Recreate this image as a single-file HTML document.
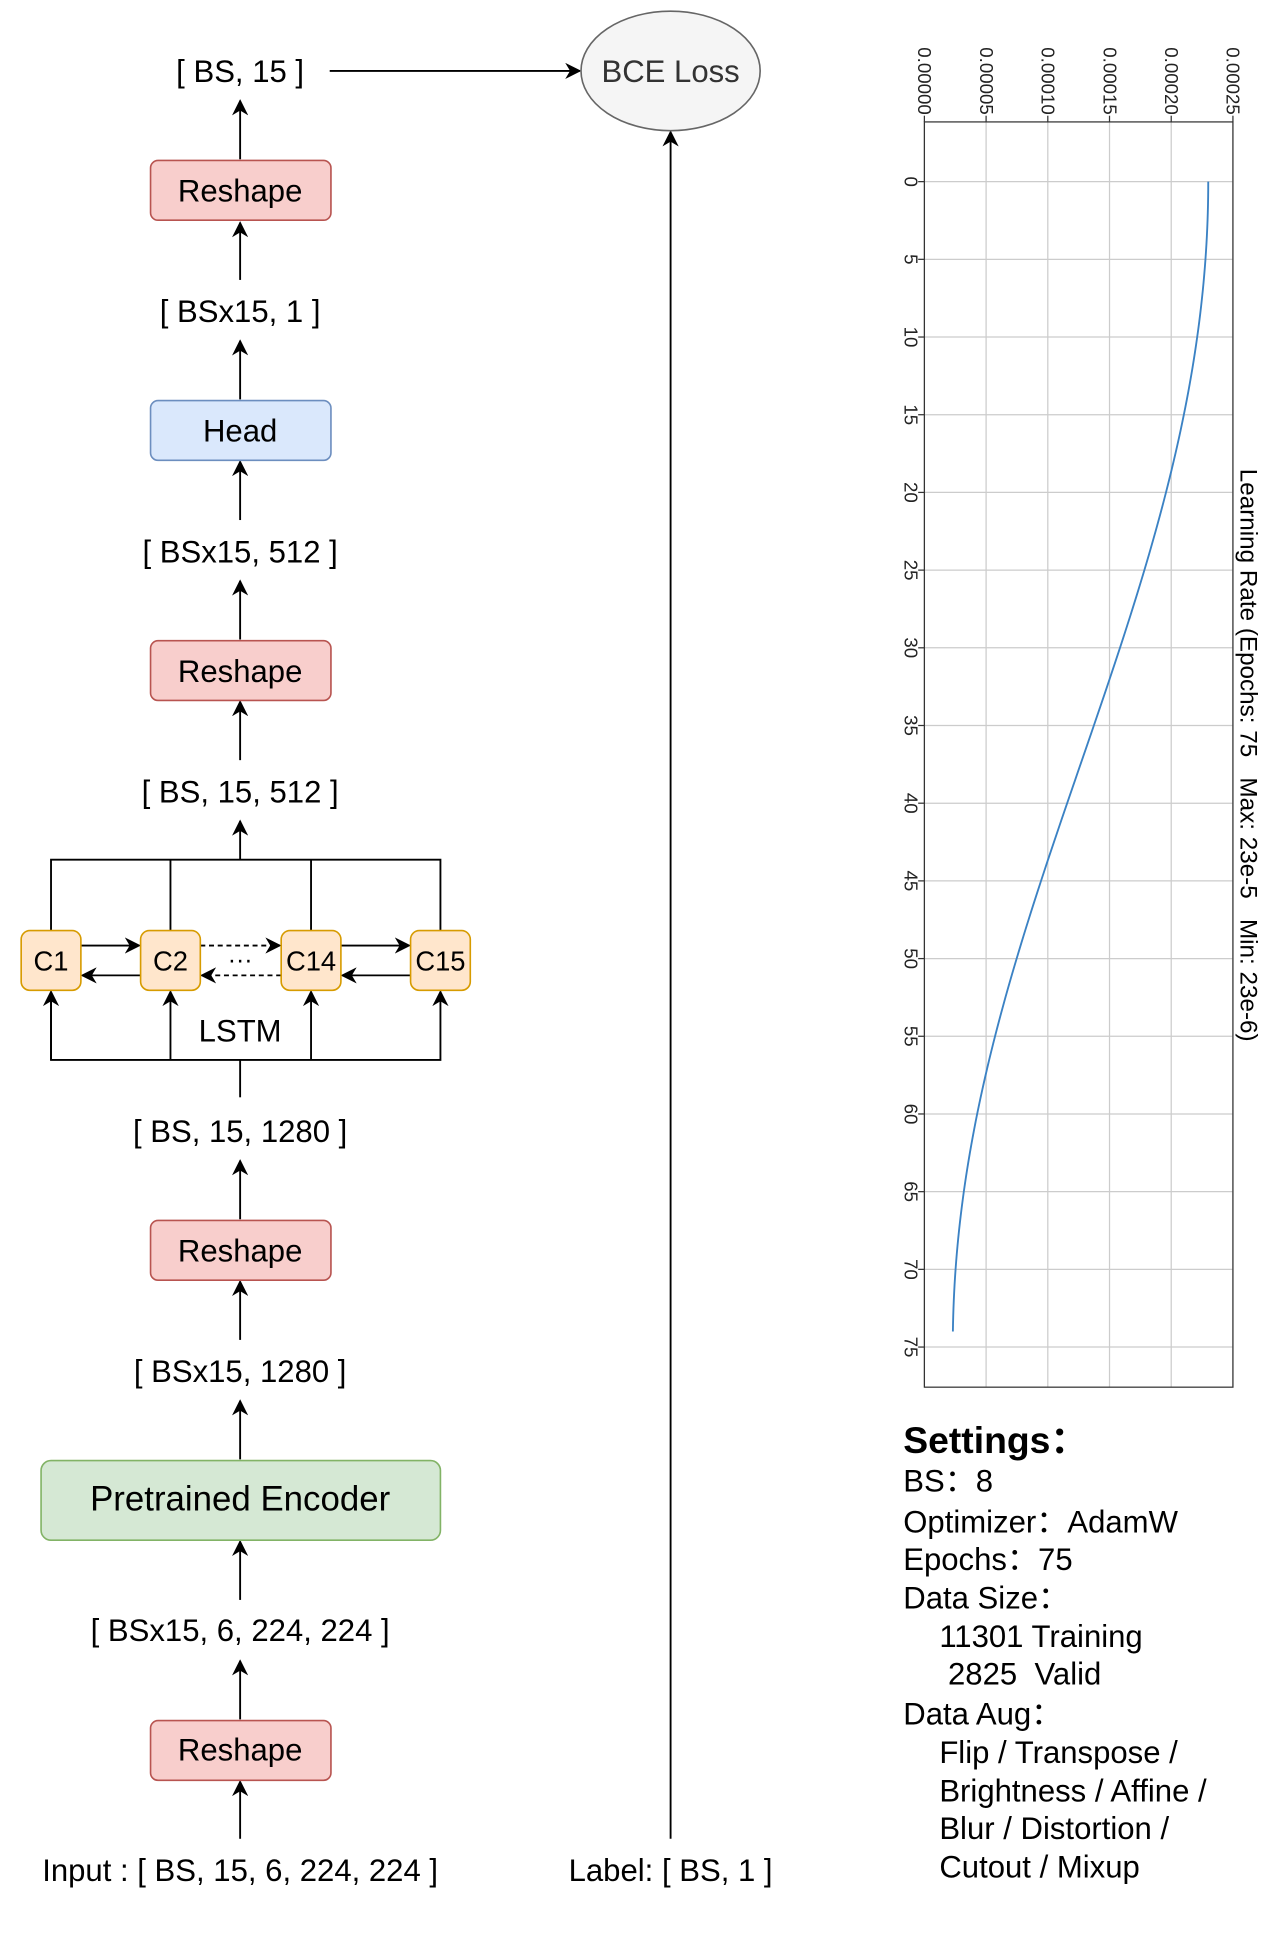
<!DOCTYPE html>
<html><head><meta charset="utf-8"><style>
html,body{margin:0;padding:0;background:#fff}
svg{display:block}
text{font-family:"Liberation Sans","Noto Sans CJK SC",sans-serif}
</style></head><body>
<svg id="s" width="1274" height="1952" viewBox="0 0 1024 1569" xmlns="http://www.w3.org/2000/svg">
<defs>
<marker id="b" viewBox="0 0 10 10" refX="9" refY="5" markerWidth="13" markerHeight="13" markerUnits="userSpaceOnUse" orient="auto"><path d="M0,0 L10,5 L0,10 L3,5 z" fill="#000"/></marker>
</defs>
<g stroke="#000" stroke-width="1.5" fill="none">
<line x1="265" y1="57" x2="466" y2="57" marker-end="url(#b)"/>
<line x1="539" y1="1478" x2="539" y2="106" marker-end="url(#b)"/>
<line x1="193" y1="128" x2="193" y2="81" marker-end="url(#b)"/>
<line x1="193" y1="225" x2="193" y2="179" marker-end="url(#b)"/>
<line x1="193" y1="321" x2="193" y2="274" marker-end="url(#b)"/>
<line x1="193" y1="418" x2="193" y2="371" marker-end="url(#b)"/>
<line x1="193" y1="514" x2="193" y2="467" marker-end="url(#b)"/>
<line x1="193" y1="611" x2="193" y2="564" marker-end="url(#b)"/>
<line x1="193" y1="691" x2="193" y2="660" marker-end="url(#b)"/>
<polyline points="41,748 41,691 354,691 354,748"/>
<line x1="137" y1="691" x2="137" y2="748"/>
<line x1="250" y1="691" x2="250" y2="748"/>
<polyline points="41,797 41,852 354,852 354,797" marker-end="url(#b)"/>
<line x1="41" y1="852" x2="41" y2="797" marker-end="url(#b)"/>
<line x1="137" y1="852" x2="137" y2="797" marker-end="url(#b)"/>
<line x1="250" y1="852" x2="250" y2="797" marker-end="url(#b)"/>
<line x1="193" y1="852" x2="193" y2="882"/>
<line x1="65" y1="760" x2="112" y2="760" marker-end="url(#b)"/>
<line x1="113" y1="784" x2="66" y2="784" marker-end="url(#b)"/>
<line x1="161" y1="760" x2="225" y2="760" stroke-dasharray="4,3" marker-end="url(#b)"/>
<line x1="226" y1="784" x2="162" y2="784" stroke-dasharray="4,3" marker-end="url(#b)"/>
<line x1="274" y1="760" x2="329" y2="760" marker-end="url(#b)"/>
<line x1="330" y1="784" x2="275" y2="784" marker-end="url(#b)"/>
<line x1="193" y1="980" x2="193" y2="933" marker-end="url(#b)"/>
<line x1="193" y1="1077" x2="193" y2="1030" marker-end="url(#b)"/>
<line x1="193" y1="1173" x2="193" y2="1126" marker-end="url(#b)"/>
<line x1="193" y1="1286" x2="193" y2="1239" marker-end="url(#b)"/>
<line x1="193" y1="1382" x2="193" y2="1335" marker-end="url(#b)"/>
<line x1="193" y1="1478" x2="193" y2="1432" marker-end="url(#b)"/>
</g>
<g stroke-width="1.3">
<rect x="121" y="129" width="145" height="48" rx="6" fill="#f8cecc" stroke="#b85450"/>
<rect x="121" y="322" width="145" height="48" rx="6" fill="#dae8fc" stroke="#6c8ebf"/>
<rect x="121" y="515" width="145" height="48" rx="6" fill="#f8cecc" stroke="#b85450"/>
<rect x="121" y="981" width="145" height="48" rx="6" fill="#f8cecc" stroke="#b85450"/>
<rect x="33" y="1174" width="321" height="64" rx="8" fill="#d5e8d4" stroke="#82b366"/>
<rect x="121" y="1383" width="145" height="48" rx="6" fill="#f8cecc" stroke="#b85450"/>
<rect x="17" y="748" width="48" height="48" rx="7" fill="#ffe6cc" stroke="#d79b00"/>
<rect x="113" y="748" width="48" height="48" rx="7" fill="#ffe6cc" stroke="#d79b00"/>
<rect x="226" y="748" width="48" height="48" rx="7" fill="#ffe6cc" stroke="#d79b00"/>
<rect x="330" y="748" width="48" height="48" rx="7" fill="#ffe6cc" stroke="#d79b00"/>
<ellipse cx="539" cy="57" rx="72" ry="48" fill="#f5f5f5" stroke="#666"/>
</g>
<g font-size="25" text-anchor="middle" fill="#000">
<text x="193" y="66">[ BS, 15 ]</text>
<text x="193" y="162">Reshape</text>
<text x="193" y="259">[ BSx15, 1 ]</text>
<text x="193" y="355">Head</text>
<text x="193" y="452">[ BSx15, 512 ]</text>
<text x="193" y="548">Reshape</text>
<text x="193" y="645">[ BS, 15, 512 ]</text>
<text x="193" y="837">LSTM</text>
<text x="193" y="918">[ BS, 15, 1280 ]</text>
<text x="193" y="1014">Reshape</text>
<text x="193" y="1111">[ BSx15, 1280 ]</text>
<text x="193" y="1214" font-size="28">Pretrained Encoder</text>
<text x="193" y="1319">[ BSx15, 6, 224, 224 ]</text>
<text x="193" y="1415">Reshape</text>
<text x="193" y="1512">Input : [ BS, 15, 6, 224, 224 ]</text>
<text x="539" y="1512">Label: [ BS, 1 ]</text>
<text x="539" y="66" fill="#333">BCE Loss</text>
<g font-size="22">
<text x="41" y="780">C1</text><text x="137" y="780">C2</text><text x="250" y="780">C14</text><text x="354" y="780">C15</text>
</g>
<text x="193" y="778" font-size="20">···</text>
</g>
<g id="plot" stroke-width="1">
<g stroke="#ccc" id="grid"></g>
<rect x="743" y="98" width="248" height="1017" fill="none" stroke="#333"/>
<path id="curve" fill="none" stroke="#3b82c4" stroke-width="1.5"/>
<g id="lbl" font-size="15" fill="#222"></g>
<text transform="translate(997,607) rotate(90)" text-anchor="middle" font-size="19.5" fill="#000" xml:space="preserve">Learning Rate (Epochs: 75   Max: 23e-5   Min: 23e-6)</text>
</g>
<g font-size="25" fill="#000">
<text x="726" y="1168" font-size="30" font-weight="bold">Settings：</text>
<text x="726" y="1199" xml:space="preserve">BS：8</text>
<text x="726" y="1232" xml:space="preserve">Optimizer：AdamW</text>
<text x="726" y="1262" xml:space="preserve">Epochs：75</text>
<text x="726" y="1293">Data Size：</text>
<text x="755" y="1324">11301 Training</text>
<text x="762" y="1354" xml:space="preserve">2825  Valid</text>
<text x="726" y="1386">Data Aug：</text>
<text x="755" y="1417">Flip / Transpose /</text>
<text x="755" y="1448">Brightness / Affine /</text>
<text x="755" y="1478">Blur / Distortion /</text>
<text x="755" y="1509">Cutout / Mixup</text>
</g>
</svg>
<script>
var NS="http://www.w3.org/2000/svg",g=document.getElementById('grid'),l=document.getElementById('lbl');
function el(p,t,a,txt){var e=document.createElementNS(NS,t);for(var k in a)e.setAttribute(k,a[k]);if(txt!=null)e.textContent=txt;p.appendChild(e);return e;}
var xs=["0.00000","0.00005","0.00010","0.00015","0.00020","0.00025"];
for(var i=0;i<6;i++){var x=743+i*49.6;el(g,'line',{x1:x,y1:98,x2:x,y2:1115});el(g,'line',{x1:x,y1:93,x2:x,y2:98,stroke:'#333'});
el(l,'text',{transform:'translate('+(x-5)+',38) rotate(90)'},xs[i]);}
var P=12.49;
for(var e=0;e<=75;e+=5){var y=146+e*P;el(g,'line',{x1:743,y1:y,x2:991,y2:y});el(g,'line',{x1:738,y1:y,x2:743,y2:y,stroke:'#333'});
el(l,'text',{transform:'translate(727,'+y+') rotate(90)','text-anchor':'middle'},String(e));}
var d="";for(var e=0;e<=74;e+=0.5){var lr=23e-6+(23e-5-23e-6)*(1+Math.cos(Math.PI*e/75))/2;var x=743+lr/0.00025*248,y=146+e*P;d+=(e?"L":"M")+x.toFixed(2)+","+y.toFixed(2);}
document.getElementById('curve').setAttribute('d',d);
</script>
</body></html>
